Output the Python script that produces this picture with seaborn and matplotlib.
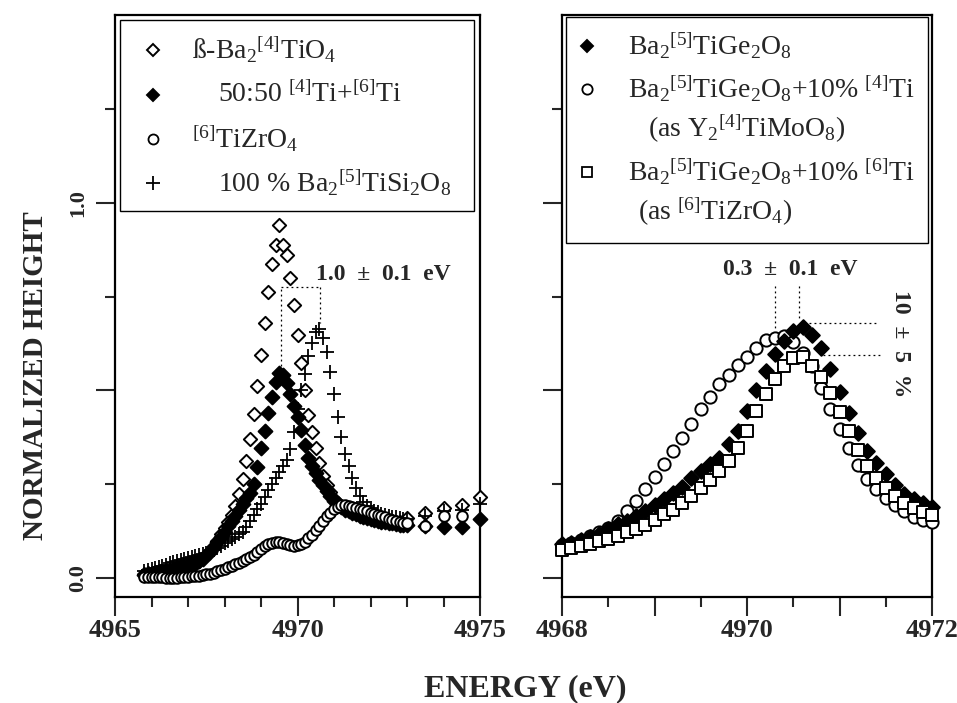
import numpy as np
import pandas as pd
import matplotlib
matplotlib.use("Agg")
import matplotlib.pyplot as plt
import seaborn as sns
from matplotlib.patches import Rectangle

# ---------------- data ----------------
# Left panel energy grid (eV)
e_left = [4965.8, 4965.9, 4966.0, 4966.1, 4966.2, 4966.3, 4966.4, 4966.5, 4966.6, 4966.7,
          4966.8, 4966.9, 4967.0, 4967.1, 4967.2, 4967.3, 4967.4, 4967.5, 4967.6, 4967.7,
          4967.8, 4967.9, 4968.0, 4968.1, 4968.2, 4968.3, 4968.4, 4968.5, 4968.6, 4968.7,
          4968.8, 4968.9, 4969.0, 4969.1, 4969.2, 4969.3, 4969.4, 4969.5, 4969.6, 4969.7,
          4969.8, 4969.9, 4970.0, 4970.1, 4970.2, 4970.3, 4970.4, 4970.5, 4970.6, 4970.7,
          4970.8, 4970.9, 4971.0, 4971.1, 4971.2, 4971.3, 4971.4, 4971.5, 4971.6, 4971.7,
          4971.8, 4971.9, 4972.0, 4972.1, 4972.2, 4972.3, 4972.4, 4972.5, 4972.6, 4972.7,
          4972.8, 4972.9, 4973.0, 4973.5, 4974.0, 4974.5, 4975.0]

# beta-Ba2[4]TiO4 (open diamonds)
ba2tio4 = [0.012, 0.014, 0.015, 0.017, 0.018, 0.020, 0.021, 0.023, 0.025, 0.027,
           0.029, 0.031, 0.034, 0.037, 0.041, 0.046, 0.053, 0.062, 0.073, 0.086,
           0.100, 0.117, 0.133, 0.150, 0.168, 0.193, 0.224, 0.264, 0.313, 0.370,
           0.438, 0.512, 0.595, 0.680, 0.762, 0.838, 0.888, 0.941, 0.888, 0.862,
           0.800, 0.728, 0.648, 0.572, 0.501, 0.436, 0.390, 0.346, 0.306, 0.272,
           0.248, 0.230, 0.212, 0.200, 0.192, 0.186, 0.181, 0.177, 0.173, 0.170,
           0.167, 0.164, 0.162, 0.160, 0.158, 0.156, 0.155, 0.153, 0.152, 0.151,
           0.150, 0.150, 0.160, 0.174, 0.187, 0.195, 0.215]

# 50:50 [4]Ti + [6]Ti (filled diamonds)
mix5050 = [0.008, 0.010, 0.011, 0.013, 0.014, 0.016, 0.018, 0.020, 0.022, 0.024,
           0.026, 0.029, 0.032, 0.035, 0.039, 0.045, 0.052, 0.061, 0.071, 0.083,
           0.096, 0.110, 0.124, 0.138, 0.152, 0.166, 0.182, 0.198, 0.214, 0.226,
           0.252, 0.297, 0.346, 0.392, 0.440, 0.483, 0.523, 0.546, 0.540, 0.519,
           0.490, 0.460, 0.430, 0.395, 0.355, 0.320, 0.298, 0.279, 0.262, 0.247,
           0.232, 0.219, 0.205, 0.196, 0.189, 0.183, 0.178, 0.174, 0.170, 0.166,
           0.163, 0.160, 0.157, 0.155, 0.153, 0.151, 0.149, 0.147, 0.146, 0.144,
           0.143, 0.142, 0.141, 0.140, 0.137, 0.137, 0.157]

# [6]TiZrO4 (open circles) - no point at 4975.0
tizro4 = [0.004, 0.004, 0.003, 0.003, 0.002, 0.002, 0.001, 0.000, 0.000, 0.001,
          0.002, 0.003, 0.004, 0.005, 0.006, 0.007, 0.008, 0.010, 0.012, 0.015,
          0.018, 0.021, 0.025, 0.029, 0.033, 0.037, 0.041, 0.045, 0.050, 0.056,
          0.063, 0.071, 0.078, 0.085, 0.091, 0.095, 0.097, 0.096, 0.093, 0.090,
          0.088, 0.087, 0.088, 0.091, 0.097, 0.106, 0.116, 0.128, 0.140, 0.153,
          0.165, 0.175, 0.185, 0.191, 0.194, 0.195, 0.193, 0.190, 0.187, 0.184,
          0.181, 0.178, 0.175, 0.172, 0.169, 0.165, 0.162, 0.159, 0.156, 0.153,
          0.150, 0.148, 0.146, 0.140, 0.165, 0.165, np.nan]

# 100 % Ba2[5]TiSi2O8 (plus)
ba2tisi2o8 = [0.018, 0.021, 0.024, 0.027, 0.030, 0.033, 0.036, 0.040, 0.043, 0.046,
              0.049, 0.052, 0.055, 0.057, 0.059, 0.061, 0.064, 0.068, 0.072, 0.076,
              0.080, 0.086, 0.093, 0.099, 0.105, 0.111, 0.117, 0.123, 0.137, 0.152,
              0.168, 0.184, 0.198, 0.215, 0.235, 0.252, 0.266, 0.282, 0.300, 0.315,
              0.345, 0.390, 0.450, 0.500, 0.545, 0.592, 0.626, 0.655, 0.664, 0.640,
              0.603, 0.550, 0.490, 0.430, 0.377, 0.330, 0.298, 0.268, 0.240, 0.218,
              0.203, 0.193, 0.186, 0.180, 0.176, 0.172, 0.169, 0.166, 0.164, 0.162,
              0.160, 0.158, 0.157, 0.165, 0.178, 0.183, 0.197]

# Right panel energy grid (eV)
e_right = [4968.0, 4968.1, 4968.2, 4968.3, 4968.4, 4968.5, 4968.6, 4968.7, 4968.8, 4968.9,
           4969.0, 4969.1, 4969.2, 4969.3, 4969.4, 4969.5, 4969.6, 4969.7, 4969.8, 4969.9,
           4970.0, 4970.1, 4970.2, 4970.3, 4970.4, 4970.5, 4970.6, 4970.7, 4970.8, 4970.9,
           4971.0, 4971.1, 4971.2, 4971.3, 4971.4, 4971.5, 4971.6, 4971.7, 4971.8, 4971.9,
           4972.0]

# Ba2[5]TiGe2O8 (filled diamonds)
ba2tige2o8 = [0.090, 0.095, 0.102, 0.110, 0.119, 0.131, 0.144, 0.153, 0.166, 0.180,
              0.195, 0.210, 0.228, 0.244, 0.268, 0.285, 0.305, 0.320, 0.358, 0.392,
              0.446, 0.500, 0.552, 0.598, 0.632, 0.658, 0.668, 0.648, 0.612, 0.558,
              0.497, 0.440, 0.388, 0.340, 0.307, 0.277, 0.248, 0.223, 0.212, 0.200,
              0.190]

# + 10 % [4]Ti (open circles)
plus4ti = [0.088, 0.094, 0.102, 0.112, 0.122, 0.134, 0.152, 0.178, 0.205, 0.238,
           0.270, 0.303, 0.338, 0.374, 0.412, 0.450, 0.482, 0.517, 0.542, 0.568,
           0.590, 0.612, 0.635, 0.640, 0.644, 0.628, 0.600, 0.565, 0.507, 0.450,
           0.397, 0.348, 0.302, 0.264, 0.238, 0.214, 0.195, 0.178, 0.164, 0.156,
           0.150]

# + 10 % [6]Ti (open squares)
plus6ti = [0.076, 0.080, 0.086, 0.092, 0.098, 0.104, 0.113, 0.122, 0.132, 0.143,
           0.156, 0.170, 0.183, 0.200, 0.218, 0.240, 0.262, 0.285, 0.313, 0.348,
           0.392, 0.445, 0.490, 0.530, 0.565, 0.586, 0.588, 0.566, 0.535, 0.492,
           0.444, 0.392, 0.342, 0.298, 0.266, 0.240, 0.218, 0.200, 0.186, 0.177,
           0.168]

left_labels = [r"ß-Ba$_2$$^{[4]}$TiO$_4$",
               r"50:50 $^{[4]}$Ti+$^{[6]}$Ti",
               r"$^{[6]}$TiZrO$_4$",
               r"100 % Ba$_2$$^{[5]}$TiSi$_2$O$_8$"]
right_labels = [r"Ba$_2$$^{[5]}$TiGe$_2$O$_8$",
                r"Ba$_2$$^{[5]}$TiGe$_2$O$_8$+10% $^{[4]}$Ti",
                r"(as Y$_2$$^{[4]}$TiMoO$_8$)",
                r"Ba$_2$$^{[5]}$TiGe$_2$O$_8$+10% $^{[6]}$Ti",
                r"(as $^{[6]}$TiZrO$_4$)"]

# ---------------- style ----------------
sns.set_style("ticks")
plt.rcParams["font.family"] = ["Liberation Serif", "DejaVu Serif"]
plt.rcParams["mathtext.default"] = "regular"
plt.rcParams["axes.linewidth"] = 1.5

fig = plt.figure(figsize=(9.57, 7.03), dpi=100)
W, H = 957.0, 703.0
axL = fig.add_axes([115 / W, 1 - 597 / H, 365 / W, 582 / H])
axR = fig.add_axes([562 / W, 1 - 597 / H, 370 / W, 582 / H])

left_df = pd.DataFrame({"E": e_left, "od": ba2tio4, "fd": mix5050,
                        "ci": tizro4, "pl": ba2tisi2o8})
right_df = pd.DataFrame({"E": e_right, "fd": ba2tige2o8, "ci": plus4ti, "sq": plus6ti})

lw = 1.4
# left panel
sns.scatterplot(data=left_df, x="E", y="od", ax=axL, marker="D", s=46, color="white",
                edgecolor="black", linewidth=lw, legend=False, clip_on=False, zorder=3)
sns.scatterplot(data=left_df, x="E", y="fd", ax=axL, marker="D", s=50, color="black",
                edgecolor="black", linewidth=lw, legend=False, clip_on=False, zorder=4)
sns.scatterplot(data=left_df, x="E", y="pl", ax=axL, marker="+", s=100, color="black",
                linewidth=1.3, legend=False, clip_on=False, zorder=5)
sns.scatterplot(data=left_df, x="E", y="ci", ax=axL, marker="o", s=58, color="white",
                edgecolor="black", linewidth=lw, legend=False, clip_on=False, zorder=6)

# right panel
sns.scatterplot(data=right_df, x="E", y="ci", ax=axR, marker="o", s=78, color="white",
                edgecolor="black", linewidth=lw, legend=False, clip_on=False, zorder=3)
sns.scatterplot(data=right_df, x="E", y="fd", ax=axR, marker="D", s=56, color="black",
                edgecolor="black", linewidth=lw, legend=False, clip_on=False, zorder=4)
sns.scatterplot(data=right_df, x="E", y="sq", ax=axR, marker="s", s=74, color="white",
                edgecolor="black", linewidth=lw, legend=False, clip_on=False, zorder=5)

# ---------------- axes ----------------
for ax in (axL, axR):
    ax.set_ylim(-0.05, 1.5)
    ax.set_yticks([0.0, 0.5, 1.0])
    ax.set_yticks([0.25, 0.75, 1.25], minor=True)
    ax.set_xlabel("")
    ax.set_ylabel("")
    ax.tick_params(which="major", direction="out", length=14, width=1.5, pad=2,
                   labelsize=19, top=False, right=False)
    ax.tick_params(which="minor", direction="out", length=7, width=1.5,
                   top=False, right=False)
    for sp in ax.spines.values():
        sp.set_visible(True)
        sp.set_linewidth(1.6)
        sp.set_color("black")

axL.set_xlim(4965, 4975)
axL.set_xticks([4965, 4970, 4975], labels=["4965", "4970", "4975"])
axL.set_xticks([4966, 4967, 4968, 4969, 4971, 4972, 4973, 4974], minor=True)
axL.set_yticklabels(["0.0", "", "1.0"])
axL.tick_params(axis="y", which="major", labelrotation=90, pad=5, labelsize=16)
for t in axL.get_yticklabels():
    t.set_va("center")
    t.set_fontweight("bold")

axR.set_xlim(4968, 4972)
axR.set_xticks([4968, 4969, 4970, 4971, 4972], labels=["4968", "", "4970", "", "4972"])
axR.set_xticks([4968.5, 4969.5, 4970.5, 4971.5], minor=True)
axR.set_yticklabels(["", "", ""])

for ax in (axL, axR):
    for t in ax.get_xticklabels():
        t.set_fontweight("bold")

# ---------------- annotations ----------------
dot = dict(color="black", linewidth=0.9, linestyle=(0, (1.5, 2.5)), zorder=7)
axL.plot([4969.55, 4969.55], [0.565, 0.775], **dot)
axL.plot([4969.55, 4970.62], [0.775, 0.775], **dot)
axL.plot([4970.62, 4970.62], [0.775, 0.68], **dot)
axL.text(4972.35, 0.808, "1.0  ±  0.1  eV", ha="center", va="center",
         fontsize=17, fontweight="bold", zorder=8)

axR.plot([4970.30, 4970.30], [0.777, 0.665], **dot)
axR.plot([4970.56, 4970.56], [0.777, 0.69], **dot)
axR.plot([4970.62, 4971.43], [0.681, 0.681], **dot)
axR.plot([4970.82, 4971.47], [0.595, 0.595], **dot)
axR.text(4970.47, 0.823, "0.3  ±  0.1  eV", ha="center", va="center",
         fontsize=17, fontweight="bold", zorder=8)
axR.text(4971.66, 0.625, "10  ±  5  %", ha="center", va="center", rotation=-90,
         fontsize=17, fontweight="bold", zorder=8)

# ---------------- legends (drawn by hand) ----------------
def frac_y(py):
    return (597 - py) / 582.0

# left legend
axL.add_patch(Rectangle((0.014, frac_y(211)), 0.97, frac_y(20) - frac_y(211),
                        transform=axL.transAxes, facecolor="white", edgecolor="black",
                        linewidth=1.0, zorder=9, clip_on=False))
lrows = [50, 95, 139, 183]
lmark = [dict(marker="D", ms=6.0, mfc="white", mec="black", mew=1.4),
         dict(marker="D", ms=6.4, mfc="black", mec="black", mew=1.4),
         dict(marker="o", ms=7.2, mfc="white", mec="black", mew=1.3),
         dict(marker="+", ms=10, mfc="black", mec="black", mew=1.3)]
ltx = [0.211, 0.282, 0.211, 0.282]
for row, mk, tx, lab in zip(lrows, lmark, ltx, left_labels):
    axL.plot([0.105], [frac_y(row)], transform=axL.transAxes, linestyle="none",
             zorder=10, clip_on=False, **mk)
    axL.text(tx, frac_y(row), lab, transform=axL.transAxes, ha="left", va="center",
             fontsize=20, zorder=10)

# right legend
axR.add_patch(Rectangle((0.011, frac_y(243)), 0.978, frac_y(17) - frac_y(243),
                        transform=axR.transAxes, facecolor="white", edgecolor="black",
                        linewidth=1.0, zorder=9, clip_on=False))
rrows = [46, 89, 129, 172, 212]
rtx = [0.178, 0.178, 0.232, 0.178, 0.205]
for row, tx, lab in zip(rrows, rtx, right_labels):
    axR.text(tx, frac_y(row), lab, transform=axR.transAxes, ha="left", va="center",
             fontsize=20, zorder=10)
rmark = [(46, dict(marker="D", ms=6.4, mfc="black", mec="black", mew=1.4)),
         (89, dict(marker="o", ms=7.4, mfc="white", mec="black", mew=1.3)),
         (172, dict(marker="s", ms=7.4, mfc="white", mec="black", mew=1.3))]
for row, mk in rmark:
    axR.plot([0.068], [frac_y(row)], transform=axR.transAxes, linestyle="none",
             zorder=10, clip_on=False, **mk)

# ---------------- figure labels ----------------
fig.text(36 / W, 1 - 376 / H, "NORMALIZED HEIGHT", rotation=90, ha="center",
         va="center", fontsize=21, fontweight="bold")
fig.text(525 / W, 1 - 689 / H, "ENERGY (eV)", ha="center", va="center",
         fontsize=23, fontweight="bold")

fig.savefig("out.png", dpi=100)
